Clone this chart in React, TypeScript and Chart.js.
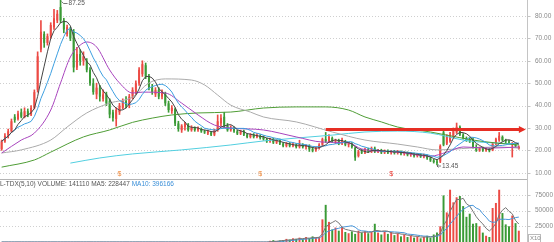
import React, { useEffect, useRef } from "react";
import { Chart, registerables } from "chart.js";

Chart.register(...registerables);

// ---------- data ----------
const OPEN = [
  20.5, 24, 26.5, 28.5, 35, 34, 37, 35, 37.5, 36,
  39, 47, 65, 72, 68, 71, 75, 78, 84, 78,
  72, 74, 73, 57, 63, 60, 60, 56, 50, 45,
  48, 43, 45, 42, 37, 34, 37, 39, 42, 40,
  44, 46, 50, 54, 58, 53, 48, 45, 47, 44,
  45, 41, 37.5, 38.5, 32, 29, 30.5, 31.5, 29, 30,
  29, 29.5, 28.5, 27.5, 28, 27, 29, 32, 35, 31,
  29, 30, 28.5, 27.5, 28.5, 27, 26, 27, 26, 26.5,
  26, 25, 24, 25, 23.5, 24.5, 23, 22, 23, 22,
  22.5, 21.5, 22.5, 21.5, 22, 20.5, 20, 21, 22.5, 25,
  24, 25.5, 24, 24.5, 23, 24, 22.5, 23, 21, 17.5,
  19.5, 19, 20.5, 19.5, 20.8, 19.5, 20, 19, 19.8, 19,
  19.5, 18.8, 19.5, 18.5, 19, 18, 18.5, 17.5, 18.2, 17.2,
  17.8, 16.5, 15.5, 15, 15, 28, 23, 24, 26, 28,
  30.5, 27, 25.5, 25, 25, 21.5, 20, 21, 20, 20.5,
  20, 23, 24.5, 26, 24.5, 24, 22.5, 22.5, 20.8,
];
const CLOSE = [
  24, 26.5, 28.5, 33, 33.5, 36.5, 35, 37.5, 36, 39,
  46, 62, 73, 68, 71, 76, 79, 81, 78, 74,
  75, 70, 57, 63, 60, 62, 56, 50, 46, 48,
  44, 45, 41, 36, 34.5, 38, 40, 42, 40, 44,
  47, 50, 56, 58.5, 53, 48, 46, 47, 44, 46,
  41, 38, 39, 32, 29.5, 31, 32, 29, 30, 29,
  30, 28.5, 28, 28.5, 27, 29, 33, 34.5, 31, 29,
  30, 28.5, 27.5, 28.5, 27, 26, 27, 26, 26.8, 25.5,
  25, 24, 25, 23.5, 24.5, 23, 22, 23, 22, 22.8,
  21.5, 22.5, 21.5, 22, 20.5, 19.8, 21, 22.5, 25, 24,
  26, 24, 24.5, 23, 24.5, 22.5, 23, 21.5, 16.8, 19.5,
  19, 20.5, 19.5, 20.8, 19.5, 20, 19, 19.8, 19, 19.5,
  18.8, 19.5, 18.5, 19, 18, 18.5, 17.5, 18.2, 17.2, 17.8,
  16.5, 15.5, 14.8, 14.5, 22, 22.5, 26, 27, 29.5, 30.5,
  27, 25.5, 24.5, 24, 21.5, 20, 21, 20, 20.8, 19.8,
  23, 25, 26.5, 24.5, 24, 23.5, 23, 22, 21.5,
];
const HIGH = [
  24.6, 27.5, 29.5, 34, 36, 37.5, 38.5, 39, 38.5, 40,
  47, 64, 78, 73, 72, 77, 83, 82.5, 87.25, 79,
  76, 75, 74, 66, 65, 64, 61, 57, 52, 50,
  49, 47, 46, 43, 38, 39, 41, 43, 44, 45,
  48, 51, 57, 60, 59, 54, 49.5, 48, 48, 47,
  46, 42, 40, 39, 33, 31.5, 32.5, 32, 31, 30.5,
  30.5, 30, 29, 29, 28.5, 29.5, 35.8, 36, 37, 32,
  31, 30.5, 29, 29, 29, 27.5, 27.5, 27.5, 27.5, 27,
  26.5, 25.5, 25.5, 25.5, 25, 25, 23.5, 23.5, 23.5, 23.5,
  23, 24.5, 23, 22.5, 22.5, 21.5, 21.5, 23, 25.5, 28,
  27, 26, 25, 25, 25.5, 24.5, 23.5, 23.5, 21.5, 20,
  20.5, 21, 21, 21.5, 21.5, 20.5, 20.5, 20.2, 20.2, 20,
  20, 20, 19.8, 19.5, 19.3, 19, 18.8, 18.6, 18.5, 18.3,
  18, 17, 16, 15.5, 22.5, 29, 27, 28, 30, 32.2,
  31, 27.5, 26, 25.5, 25.5, 22.5, 21.5, 21.5, 21.2, 21,
  23.5, 25.5, 28, 26.5, 25, 24.5, 23.5, 23, 22,
];
const LOW = [
  20, 23.5, 25.5, 28, 32.5, 33.5, 34.5, 34.5, 35, 35.5,
  38.5, 46, 64, 66, 67, 70, 74, 77, 77, 72.5,
  71, 69, 55, 56, 58, 58, 55, 49, 45, 43,
  42, 42, 40, 34.5, 33, 30.8, 36, 38.5, 39, 39,
  43, 45, 49, 53, 52, 47, 45, 44, 43, 43,
  40, 37, 36.5, 31, 28.5, 28, 29, 28.5, 28.5, 28.5,
  28.5, 28, 27.5, 27, 26.5, 26.5, 28.5, 31, 30, 28.5,
  28.5, 28, 27, 27, 26.5, 25.5, 25.5, 25.5, 25.5, 25,
  24.5, 23.5, 23.5, 23, 23, 22.5, 21.5, 21.5, 21.5, 21.5,
  21, 21, 21, 20.5, 19.5, 19.3, 19.5, 20.5, 22, 23.5,
  23.5, 23.5, 23, 22.5, 22.5, 22, 21.5, 21, 15.5, 17,
  18.5, 18.5, 19, 19, 19, 19, 18.5, 18.5, 18.5, 18.3,
  18.3, 18.3, 18, 17.8, 17.5, 17.3, 17, 17, 16.8, 16.6,
  16, 15, 14.3, 13.45, 14.5, 22, 22.5, 23.5, 25.5, 27.5,
  26.5, 25, 24, 23.5, 21, 19.5, 19.5, 19.5, 19.5, 19.3,
  19.8, 22.5, 24, 24, 23, 23, 17, 21.5, 20.5,
];
const VOLUME = [
  0, 0, 0, 0, 0, 0, 0, 0, 0, 0,
  0, 0, 0, 0, 0, 0, 0, 0, 0, 0,
  0, 0, 0, 0, 0, 0, 0, 0, 0, 0,
  0, 0, 0, 0, 0, 0, 0, 0, 0, 0,
  0, 0, 0, 0, 0, 0, 0, 0, 0, 0,
  0, 0, 0, 0, 0, 0, 0, 0, 0, 0,
  0, 0, 0, 0, 0, 0, 0, 0, 0, 0,
  0, 0, 0, 0, 0, 0, 0, 0, 0, 0,
  0, 0, 2000, 3000, 1500, 2500, 3000, 5000, 4000, 6000,
  5000, 7000, 5000, 8000, 6000, 9000, 7000, 8000, 36000, 59000,
  32000, 20000, 23000, 18000, 24000, 16000, 14000, 17000, 13000, 18000,
  15000, 17000, 14000, 16000, 29000, 15000, 12000, 17000, 13000, 16000,
  11000, 14000, 9000, 12000, 8000, 10000, 7000, 9000, 6000, 8000,
  10000, 7000, 12000, 15000, 25000, 74000, 47000, 83000, 63000, 71000,
  73000, 57000, 40000, 45000, 29000, 30000, 25000, 15000, 10000, 8000,
  54000, 62000, 83000, 46000, 28000, 25000, 42000, 30000, 18000,
];

// long moving averages at sample candles
const MA20_IDX = [0, 6, 10, 15, 18, 21, 24, 26, 29, 33, 36, 40, 43, 50, 55, 60, 65, 70, 80, 90, 98, 106, 110, 121, 131, 136, 141, 149, 158];
const MA20_VAL = [18.8, 24.6, 27.7, 38.0, 50.1, 61.7, 67.0, 68.4, 66.2, 55.9, 50.1, 45.6, 46.0, 45.6, 41.1, 35.8, 31.3, 30.0, 29.1, 26.0, 23.7, 23.3, 20.6, 19.2, 17.4, 19.2, 21.5, 21.0, 21.5];
const MA60_IDX = [0, 6, 15, 20, 26, 33, 40, 45, 50, 58, 62, 66, 70, 76, 80, 90, 101, 111, 121, 127, 133, 143, 152, 158];
const MA60_VAL = [18.8, 20.2, 24.6, 30.4, 36.7, 41.1, 43.8, 50.1, 51.9, 51.4, 49.2, 44.7, 40.2, 37.1, 34.9, 32.7, 28.2, 24.6, 22.8, 21.5, 20.2, 21.0, 21.5, 21.0];
const MA120_IDX = [0, 10, 15, 25, 33, 40, 46, 52, 60, 70, 80, 90, 99, 106, 111, 116, 121, 131, 136, 144, 151, 158];
const MA120_VAL = [12.5, 15.7, 19.2, 26.0, 29.1, 32.5, 34.4, 35.8, 36.7, 37.1, 38.9, 39.4, 39.4, 38.0, 34.9, 32.7, 30.4, 28.2, 26.8, 24.6, 23.3, 22.4];
const MA250_IDX = [21, 30, 40, 55, 70, 80, 101, 111, 121, 131, 141, 146, 158];
const MA250_VAL = [14.3, 16.6, 18.4, 20.2, 22.4, 24.2, 26.8, 28.2, 28.6, 27.7, 24.6, 23.7, 22.8];

const PRICE_TICKS = [10, 20, 30, 40, 50, 60, 70, 80];
const VOL_TICKS = [25000, 50000, 75000];
const ARROW_FROM = 99;
const ARROW_TO = 159;
const ARROW_PRICE = 29.3;
const MARKERS = [
  { idx: 36, color: "#f08a3c" },
  { idx: 79, color: "#f08a3c" },
  { idx: 119, color: "#e8342c" },
];
const LEGEND_MAIN = "VOL-TDX(5,10) VOLUME: 141110 MA5: 228447 ";
const LEGEND_MA10 = "MA10: 396166";
const EXTRA_SLOTS = 2;

// ---------- styles ----------
const FONT = "'Liberation Sans', Arial, sans-serif";
const UP = "#ec4a44";
const DOWN = "#3a9a36";
const PRICE_MIN = 7.2;
const PRICE_MAX = 87.15;

function movingAvg(arr: number[], n: number) {
  return arr.map((_, i) => {
    const s = Math.max(0, i - n + 1);
    let sum = 0;
    for (let k = s; k <= i; k++) sum += arr[k];
    return sum / (i - s + 1);
  });
}
function sparse(idx: number[], val: number[], len: number) {
  const a: (number | null)[] = new Array(len).fill(null);
  idx.forEach((ix, k) => (a[ix] = val[k]));
  return a;
}

export default function App() {
  const mainRef = useRef<HTMLCanvasElement>(null);
  const volRef = useRef<HTMLCanvasElement>(null);

  useEffect(() => {
    const N = CLOSE.length;
    const TOTAL = N + EXTRA_SLOTS;
    const labels = Array.from({ length: TOTAL }, (_, i) => String(i));
    const colors = CLOSE.map((c, i) => (c >= OPEN[i] ? UP : DOWN));

    const yAfterFit = (s: any) => {
      s.width = 27;
      s.paddingTop = 0;
      s.paddingBottom = 0;
    };

    const sparseLine = (label: string, idx: number[], val: number[], color: string) => ({
      type: "line" as const,
      label,
      data: sparse(idx, val, TOTAL),
      borderColor: color,
      borderWidth: 1,
      pointRadius: 0,
      spanGaps: true,
      cubicInterpolationMode: "monotone" as const,
      fill: false,
      order: 1,
    });

    const mainDecor = {
      id: "mainDecor",
      beforeDatasetsDraw(chart: any) {
        const { ctx, chartArea, scales } = chart;
        const y = scales.y;
        ctx.save();
        ctx.strokeStyle = "#cfcfcf";
        ctx.lineWidth = 1;
        ctx.setLineDash([1, 2]);
        PRICE_TICKS.forEach((v) => {
          const py = Math.round(y.getPixelForValue(v)) + 0.5;
          ctx.beginPath();
          ctx.moveTo(chartArea.left, py);
          ctx.lineTo(chartArea.right, py);
          ctx.stroke();
        });
        ctx.setLineDash([]);
        ctx.strokeStyle = "#c4c4c4";
        const ax = Math.round(chartArea.right) + 0.5;
        ctx.beginPath();
        ctx.moveTo(ax, 0);
        ctx.lineTo(ax, chart.height);
        ctx.stroke();
        PRICE_TICKS.forEach((v) => {
          const py = Math.round(y.getPixelForValue(v)) + 0.5;
          ctx.beginPath();
          ctx.moveTo(ax, py);
          ctx.lineTo(ax + 3, py);
          ctx.stroke();
        });
        ctx.restore();
      },
      afterDatasetsDraw(chart: any) {
        const { ctx, scales } = chart;
        const x = scales.x;
        const y = scales.y;
        ctx.save();
        // arrow head
        const tip = x.getPixelForValue(ARROW_TO + 1) + 0.5;
        const ay = y.getPixelForValue(ARROW_PRICE);
        ctx.fillStyle = "#e62e24";
        ctx.beginPath();
        ctx.moveTo(tip, ay);
        ctx.lineTo(tip - 7, ay - 3.5);
        ctx.lineTo(tip - 7, ay + 3.5);
        ctx.closePath();
        ctx.fill();

        ctx.font = `6.5px ${FONT}`;
        ctx.textBaseline = "middle";
        ctx.fillStyle = "#555";
        ctx.strokeStyle = "#555";
        ctx.lineWidth = 0.8;
        // max label
        let hi = 0;
        HIGH.forEach((h, i) => { if (h > HIGH[hi]) hi = i; });
        const hx = x.getPixelForValue(hi);
        const hy = Math.max(3.5, y.getPixelForValue(HIGH[hi]) + 3.5);
        ctx.beginPath();
        ctx.moveTo(hx + 1, hy - 2);
        ctx.lineTo(hx + 3, hy);
        ctx.lineTo(hx + 7, hy);
        ctx.stroke();
        ctx.fillText(HIGH[hi].toFixed(2), hx + 8, hy);
        // min label
        let lo = 0;
        LOW.forEach((l, i) => { if (l < LOW[lo]) lo = i; });
        const lx = x.getPixelForValue(lo);
        const ly = y.getPixelForValue(LOW[lo]) + 1;
        ctx.beginPath();
        ctx.moveTo(lx, ly);
        ctx.lineTo(lx + 4, ly);
        ctx.stroke();
        ctx.beginPath();
        ctx.moveTo(lx, ly);
        ctx.lineTo(lx + 1.5, ly - 1.5);
        ctx.moveTo(lx, ly);
        ctx.lineTo(lx + 1.5, ly + 1.5);
        ctx.stroke();
        ctx.fillText(LOW[lo].toFixed(2), lx + 5, ly + 0.5);
        // $ markers
        ctx.font = `7px ${FONT}`;
        ctx.textAlign = "center";
        MARKERS.forEach((m) => {
          ctx.fillStyle = m.color;
          ctx.fillText("$", x.getPixelForValue(m.idx), 174.5);
        });
        ctx.restore();
      },
    };

    const main = new Chart(mainRef.current!, {
      type: "bar",
      data: {
        labels,
        datasets: [
          {
            type: "line",
            label: "arrow",
            data: sparse([ARROW_FROM, ARROW_TO], [ARROW_PRICE, ARROW_PRICE], TOTAL),
            borderColor: "#e62e24",
            borderWidth: 3,
            pointRadius: 0,
            spanGaps: true,
            order: 0,
          } as any,
          {
            type: "line",
            label: "MA5",
            data: movingAvg(CLOSE, 5),
            borderColor: "#444444",
            borderWidth: 1,
            pointRadius: 0,
            order: 1,
          } as any,
          {
            type: "line",
            label: "MA10",
            data: movingAvg(CLOSE, 10),
            borderColor: "#3d9fe0",
            borderWidth: 1,
            pointRadius: 0,
            order: 1,
          } as any,
          sparseLine("MA20", MA20_IDX, MA20_VAL, "#a844bd") as any,
          sparseLine("MA60", MA60_IDX, MA60_VAL, "#ababab") as any,
          sparseLine("MA120", MA120_IDX, MA120_VAL, "#4f9d36") as any,
          sparseLine("MA250", MA250_IDX, MA250_VAL, "#52cfe0") as any,
          {
            type: "bar",
            label: "wick",
            data: LOW.map((l, i) => [l, HIGH[i]]),
            backgroundColor: colors,
            barThickness: 1,
            grouped: false,
            order: 3,
          } as any,
          {
            type: "bar",
            label: "body",
            data: OPEN.map((o, i) => [Math.min(o, CLOSE[i]), Math.max(o, CLOSE[i])]),
            backgroundColor: colors,
            barPercentage: 0.6,
            categoryPercentage: 1,
            minBarLength: 1,
            grouped: false,
            order: 2,
          } as any,
        ],
      },
      options: {
        responsive: false,
        animation: false,
        devicePixelRatio: 1,
        events: [],
        layout: { padding: 0 },
        plugins: { legend: { display: false }, tooltip: { enabled: false } },
        scales: {
          x: { type: "category", display: false, offset: true, grid: { display: false } },
          y: {
            position: "right",
            min: PRICE_MIN,
            max: PRICE_MAX,
            afterBuildTicks: (s: any) => {
              s.ticks = PRICE_TICKS.map((v) => ({ value: v }));
            },
            afterFit: yAfterFit,
            grid: { display: false, drawTicks: false },
            border: { display: false },
            ticks: {
              font: { size: 6.5, family: FONT },
              color: "#8a8a8a",
              padding: 8,
              callback: (v: any) => Number(v).toFixed(2),
            },
          },
        },
      } as any,
      plugins: [mainDecor],
    });

    const volDecor = {
      id: "volDecor",
      beforeDatasetsDraw(chart: any) {
        const { ctx, chartArea, scales } = chart;
        const y = scales.y;
        ctx.save();
        ctx.strokeStyle = "#d0d0d0";
        ctx.lineWidth = 1;
        ctx.setLineDash([1, 2]);
        VOL_TICKS.forEach((v) => {
          const py = Math.round(y.getPixelForValue(v)) + 0.5;
          ctx.beginPath();
          ctx.moveTo(chartArea.left, py);
          ctx.lineTo(chartArea.right, py);
          ctx.stroke();
        });
        ctx.setLineDash([]);
        ctx.strokeStyle = "#b4b4b4";
        ctx.beginPath();
        ctx.moveTo(0, 0.5);
        ctx.lineTo(Math.round(chartArea.right) + 0.5, 0.5);
        ctx.stroke();
        ctx.strokeStyle = "#c4c4c4";
        const ax = Math.round(chartArea.right) + 0.5;
        ctx.beginPath();
        ctx.moveTo(ax, 0);
        ctx.lineTo(ax, chart.height);
        ctx.stroke();
        VOL_TICKS.forEach((v) => {
          const py = Math.round(y.getPixelForValue(v)) + 0.5;
          ctx.beginPath();
          ctx.moveTo(ax, py);
          ctx.lineTo(ax + 3, py);
          ctx.stroke();
        });
        ctx.restore();
      },
      afterDraw(chart: any) {
        const { ctx, chartArea } = chart;
        ctx.save();
        ctx.font = `6.5px ${FONT}`;
        ctx.textBaseline = "middle";
        const off = ctx.measureText("VO").width;
        ctx.fillStyle = "#555";
        ctx.fillText(LEGEND_MAIN, -off, 5.5);
        const w = ctx.measureText(LEGEND_MAIN).width;
        ctx.fillStyle = "#3a8fd8";
        ctx.fillText(LEGEND_MA10, -off + w, 5.5);
        // X10 box
        const bx = Math.round(chartArea.right) + 1.5;
        ctx.strokeStyle = "#bbbbbb";
        ctx.lineWidth = 1;
        ctx.strokeRect(bx, 55.5, 12, 8);
        ctx.fillStyle = "#888";
        ctx.font = `6px ${FONT}`;
        ctx.fillText("X10", bx + 1.5, 59.8);
        ctx.restore();
      },
    };

    const vol = new Chart(volRef.current!, {
      type: "bar",
      data: {
        labels,
        datasets: [
          {
            type: "line",
            label: "VMA5",
            data: movingAvg(VOLUME, 5),
            borderColor: "#777777",
            borderWidth: 1,
            pointRadius: 0,
            order: 0,
          } as any,
          {
            type: "line",
            label: "VMA10",
            data: movingAvg(VOLUME, 10),
            borderColor: "#4a98dc",
            borderWidth: 1,
            pointRadius: 0,
            order: 0,
          } as any,
          {
            type: "bar",
            label: "volume",
            data: VOLUME,
            backgroundColor: colors,
            barPercentage: 0.6,
            categoryPercentage: 1,
            grouped: false,
            order: 1,
          } as any,
        ],
      },
      options: {
        responsive: false,
        animation: false,
        devicePixelRatio: 1,
        events: [],
        layout: { padding: 0 },
        plugins: { legend: { display: false }, tooltip: { enabled: false } },
        scales: {
          x: { type: "category", display: false, offset: true, grid: { display: false } },
          y: {
            position: "right",
            min: -1500,
            max: 100000,
            afterBuildTicks: (s: any) => {
              s.ticks = VOL_TICKS.map((v) => ({ value: v }));
            },
            afterFit: yAfterFit,
            grid: { display: false, drawTicks: false },
            border: { display: false },
            ticks: {
              font: { size: 6.5, family: FONT },
              color: "#8a8a8a",
              padding: 8,
              callback: (v: any) => String(v),
            },
          },
        },
      } as any,
      plugins: [volDecor],
    });

    return () => {
      main.destroy();
      vol.destroy();
    };
  }, []);

  return (
    <div
      style={{
        position: "fixed",
        left: 0,
        top: 0,
        width: 554,
        height: 242,
        background: "#fff",
        overflow: "hidden",
      }}
    >
      <canvas
        ref={mainRef}
        width={554}
        height={179}
        style={{ position: "absolute", left: 0, top: 0, width: 554, height: 179 }}
      />
      <canvas
        ref={volRef}
        width={554}
        height={64}
        style={{ position: "absolute", left: 0, top: 179, width: 554, height: 64 }}
      />
    </div>
  );
}
